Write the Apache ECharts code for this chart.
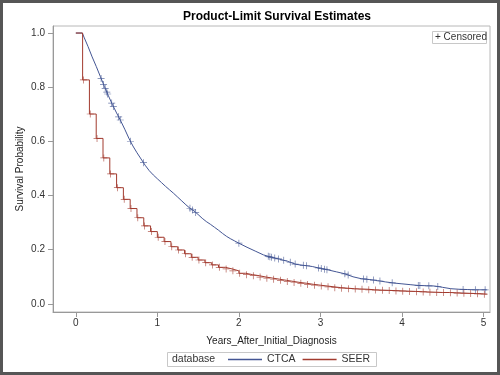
<!DOCTYPE html>
<html>
<head>
<meta charset="utf-8">
<script src="https://cdn.jsdelivr.net/npm/echarts@6/dist/echarts.min.js"></script>
<style>
    html, body {margin: 0; padding: 0; background: #fff;}
    #container {width: 500px; height: 375px;}
</style>
</head>
<body>
<div id="container"></div>
<script>
// CTCA product-limit estimate (years, survival)
var ctcaTime = [0, 0.08, 0.10, 0.15, 0.20, 0.25, 0.30, 0.35, 0.40, 0.45, 0.50, 0.55, 0.60, 0.65, 0.70, 0.75,
    0.80, 0.85, 0.90, 0.95, 1.00, 1.05, 1.10, 1.15, 1.20, 1.25, 1.30, 1.35, 1.40, 1.45, 1.50, 1.55, 1.60,
    1.65, 1.70, 1.75, 1.80, 1.85, 1.90, 1.95, 2.00, 2.10, 2.20, 2.30, 2.40, 2.50, 2.60, 2.70, 2.80, 2.90,
    3.00, 3.10, 3.20, 3.30, 3.40, 3.50, 3.60, 3.70, 3.80, 3.90, 4.00, 4.10, 4.20, 4.30, 4.40, 4.50, 4.60,
    4.70, 4.80, 4.90, 5.04];
var ctcaSurv = [1.000, 1.000, 0.985, 0.950, 0.912, 0.877, 0.840, 0.803, 0.768, 0.735, 0.705, 0.676, 0.645,
    0.612, 0.583, 0.558, 0.535, 0.512, 0.492, 0.476, 0.462, 0.448, 0.434, 0.421, 0.408, 0.394, 0.380, 0.366,
    0.353, 0.343, 0.330, 0.316, 0.304, 0.294, 0.283, 0.272, 0.260, 0.249, 0.240, 0.232, 0.224, 0.209, 0.195,
    0.181, 0.172, 0.165, 0.157, 0.146, 0.142, 0.138, 0.131, 0.125, 0.118, 0.111, 0.100, 0.093, 0.090, 0.086,
    0.081, 0.077, 0.074, 0.071, 0.068, 0.067, 0.066, 0.061, 0.056, 0.054, 0.053, 0.052, 0.052];
// CTCA censored times (years)
var ctcaCensor = [0.31, 0.34, 0.36, 0.38, 0.39, 0.44, 0.46, 0.525, 0.545, 0.67, 0.83, 1.40, 1.43, 1.47, 2.0,
    2.36, 2.38, 2.40, 2.44, 2.485, 2.55, 2.63, 2.69, 2.79, 2.83, 2.975, 3.01, 3.05, 3.08, 3.30, 3.34,
    3.53, 3.57, 3.65, 3.73, 3.88, 4.20, 4.22, 4.33, 4.44, 4.75, 4.90, 5.02];
// SEER estimate by month 0..60
var seerSurv = [1.000, 0.827, 0.701, 0.611, 0.539, 0.480, 0.429, 0.386, 0.352, 0.318, 0.288, 0.267, 0.246,
    0.230, 0.211, 0.199, 0.185, 0.172, 0.162, 0.152, 0.144, 0.135, 0.129, 0.122, 0.113, 0.108, 0.104, 0.099,
    0.095, 0.091, 0.087, 0.083, 0.079, 0.076, 0.072, 0.069, 0.066, 0.063, 0.060, 0.058, 0.056, 0.055, 0.054,
    0.052, 0.051, 0.050, 0.049, 0.048, 0.047, 0.046, 0.045, 0.044, 0.043, 0.042, 0.042, 0.041, 0.040, 0.039,
    0.038, 0.037, 0.036];
var xTicks = [0, 1, 2, 3, 4, 5];
var yTicks = [0, 0.2, 0.4, 0.6, 0.8, 1.0];

var blue = '#445694';
var red = '#A23A2E';
var plus = 'path://M4.5,0 H5.5 V4.5 H10 V5.5 H5.5 V10 H4.5 V5.5 H0 V4.5 H4.5 Z';

// value on the drawn (linear) curve at time t
function lineValue(ts, ss, t) {
    for (var i = 1; i < ts.length; i++) {
        if (t <= ts[i]) {
            var f = (t - ts[i - 1]) / (ts[i] - ts[i - 1]);
            return ss[i - 1] + f * (ss[i] - ss[i - 1]);
        }
    }
    return ss[ss.length - 1];
}

var ctcaData = [];
for (var i = 0; i < ctcaTime.length; i++) {
    ctcaData.push([ctcaTime[i], ctcaSurv[i]]);
}
var ctcaMarks = [];
for (var i = 0; i < ctcaCensor.length; i++) {
    ctcaMarks.push([ctcaCensor[i], lineValue(ctcaTime, ctcaSurv, ctcaCensor[i])]);
}
var seerData = [];
var seerMarks = [];
for (var k = 0; k < seerSurv.length; k++) {
    seerData.push([k / 12, seerSurv[k]]);
    if (k > 0) seerMarks.push([k / 12 + 0.01, seerSurv[k]]);
}
seerData.push([5.04, seerSurv[seerSurv.length - 1]]);

var font = '"Liberation Sans", Arial, sans-serif';
var dom = document.getElementById("container");
var myChart = echarts.init(dom, null, {renderer: 'canvas'});
var option = {
    animation: false,
    backgroundColor: '#fff',
    textStyle: {fontFamily: font},
    title: {
        text: 'Product-Limit Survival Estimates',
        left: 272,
        top: 6,
        textAlign: 'center',
        textStyle: {fontSize: 12, fontWeight: 'bold', color: '#000', fontFamily: font}
    },
    grid: {
        left: 53, right: 10, top: 26, bottom: 63,
        show: true, borderColor: '#b8b8b8', borderWidth: 1, backgroundColor: '#fff'
    },
    legend: {
        left: 228,
        top: 354,
        padding: 0,
        itemWidth: 34,
        itemHeight: 1.5,
        itemGap: 7,
        icon: 'rect',
        data: ['CTCA', 'SEER'],
        textStyle: {fontSize: 10.5, color: '#333', fontFamily: font}
    },
    xAxis: {
        type: 'value',
        min: -0.28,
        max: 5.08,
        name: 'Years_After_Initial_Diagnosis',
        nameLocation: 'middle',
        nameGap: 24,
        nameTextStyle: {fontSize: 10, color: '#222'},
        splitLine: {show: false},
        axisLine: {show: true, onZero: false, lineStyle: {color: '#999'}},
        axisTick: {show: true, length: 5, lineStyle: {color: '#999'}, customValues: xTicks},
        axisLabel: {fontSize: 10, color: '#333', margin: 6, customValues: xTicks}
    },
    yAxis: {
        type: 'value',
        min: -0.03,
        max: 1.026,
        name: 'Survival Probability',
        nameLocation: 'middle',
        nameGap: 28,
        nameMoveOverlap: false,
        nameTextStyle: {fontSize: 10, color: '#222'},
        splitLine: {show: false},
        axisLine: {show: true, onZero: false, lineStyle: {color: '#999'}},
        axisTick: {show: true, length: 5, lineStyle: {color: '#999'}, customValues: yTicks},
        axisLabel: {
            fontSize: 10, color: '#333', margin: 8, customValues: yTicks,
            formatter: function (v) { return v.toFixed(1); }
        }
    },
    graphic: [
        {type: 'rect', shape: {x: 1.5, y: 1.5, width: 497, height: 372}, style: {fill: 'none', stroke: '#565656', lineWidth: 3}, z: 100},
        {type: 'rect', shape: {x: 432.5, y: 31.5, width: 54, height: 12}, style: {fill: '#fff', stroke: '#c8c8c8', lineWidth: 1}, z: 50},
        {type: 'text', left: 435, top: 32.5, style: {text: '+ Censored', fill: '#333', font: '10px ' + font}, z: 51},
        {type: 'rect', shape: {x: 167.5, y: 352.5, width: 209, height: 14}, style: {fill: '#fff', stroke: '#c8c8c8', lineWidth: 1}, z: 1},
        {type: 'text', left: 172, top: 354, style: {text: 'database', fill: '#333', font: '10.5px ' + font}, z: 2}
    ],
    series: [
        {
            name: 'CTCA',
            type: 'line',
            showSymbol: false,
            symbol: 'none',
            data: ctcaData,
            lineStyle: {color: blue, width: 1},
            itemStyle: {color: blue},
            z: 3
        },
        {
            name: 'SEER',
            type: 'line',
            step: 'end',
            showSymbol: false,
            symbol: 'none',
            data: seerData,
            lineStyle: {color: red, width: 1},
            itemStyle: {color: red},
            z: 3
        },
        {
            name: 'CTCA censored',
            type: 'scatter',
            symbol: plus,
            symbolSize: 7,
            data: ctcaMarks,
            itemStyle: {color: blue},
            z: 4
        },
        {
            name: 'SEER censored',
            type: 'scatter',
            symbol: plus,
            symbolSize: 7,
            data: seerMarks,
            itemStyle: {color: red},
            z: 4
        }
    ]
};
myChart.setOption(option, true);
</script>
</body>
</html>
